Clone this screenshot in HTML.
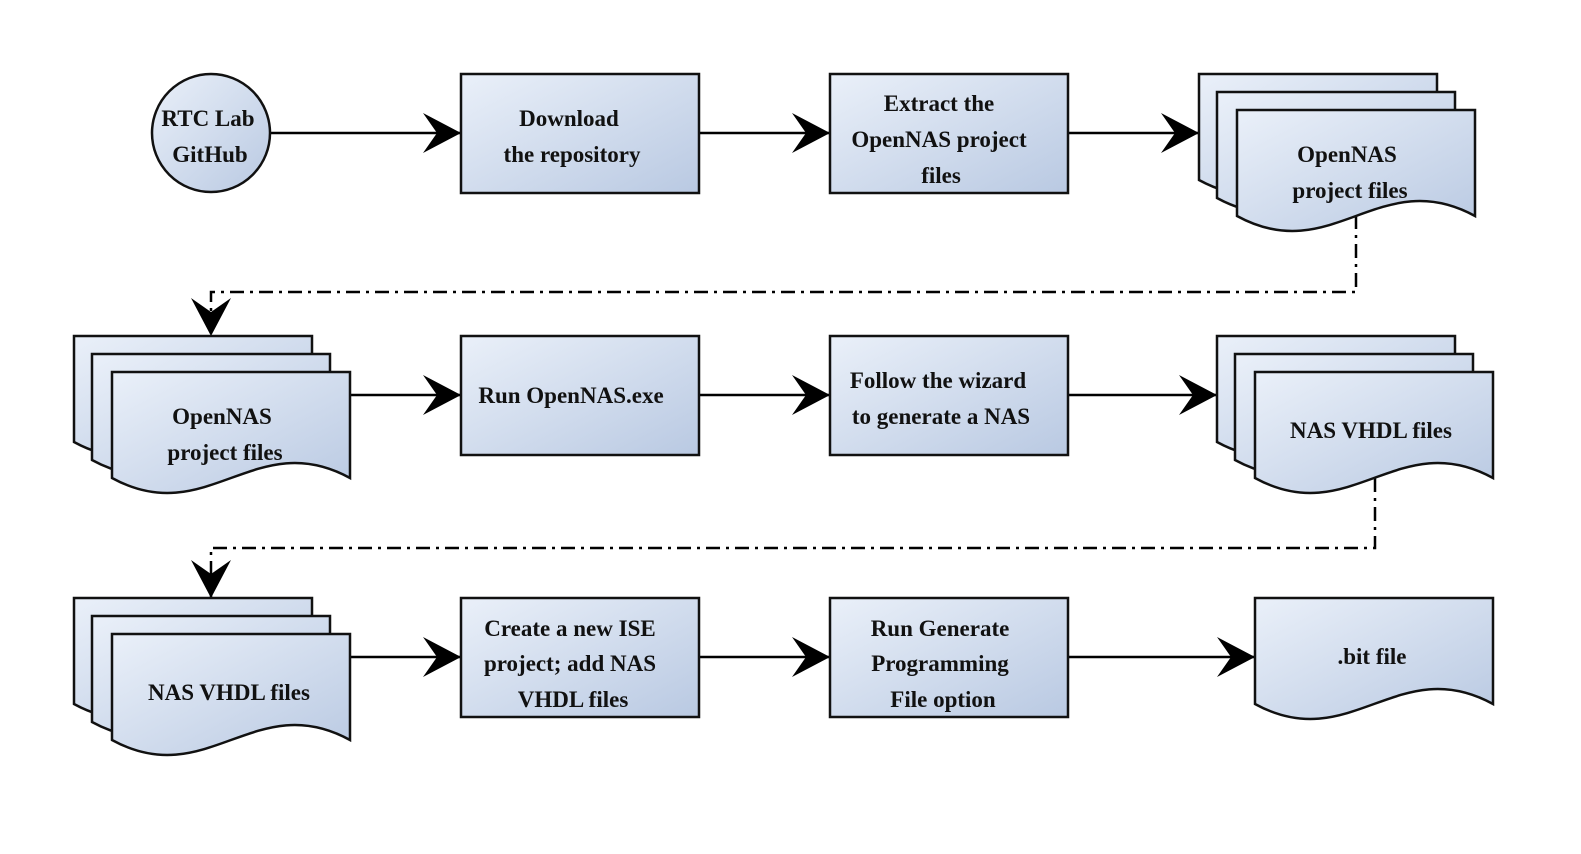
<!DOCTYPE html>
<html><head><meta charset="utf-8"><style>
html,body{margin:0;padding:0;background:#fff;}
svg text{font-family:"Liberation Serif",serif;font-weight:bold;font-size:23px;fill:#111;text-anchor:middle;}
</style></head><body>
<svg width="1581" height="849" viewBox="0 0 1581 849" xmlns="http://www.w3.org/2000/svg">
<defs>
<linearGradient id="g" x1="0" y1="0" x2="1" y2="1">
<stop offset="0" stop-color="#eaf0f9"/><stop offset="1" stop-color="#b9c9e2"/></linearGradient>
<marker id="a" markerUnits="userSpaceOnUse" markerWidth="42" markerHeight="42" refX="38" refY="20" orient="auto">
<path d="M0,0 L38,20 L0,40 L14,20 Z" fill="#000"/></marker>
<path id="d" d="M0,0 H238 V106 C143,54 95,158 0,106 Z" fill="url(#g)" stroke="#111" stroke-width="2.5"/>
</defs>
<g fill="none" stroke="#000" stroke-width="2.5">
<path d="M270,133 H461" marker-end="url(#a)"/>
<path d="M699,133 H830" marker-end="url(#a)"/>
<path d="M1068,133 H1199" marker-end="url(#a)"/>
<path d="M350,395 H461" marker-end="url(#a)"/>
<path d="M699,395 H830" marker-end="url(#a)"/>
<path d="M1068,395 H1217" marker-end="url(#a)"/>
<path d="M350,657 H461" marker-end="url(#a)"/>
<path d="M699,657 H830" marker-end="url(#a)"/>
<path d="M1068,657 H1255" marker-end="url(#a)"/>
<path d="M1356,215 V292 H211 V336" stroke-dasharray="14 6 3 6" marker-end="url(#a)"/>
<path d="M1375,478 V548 H211 V598" stroke-dasharray="14 6 3 6" marker-end="url(#a)"/>
</g>
<circle cx="211" cy="133" r="59" fill="url(#g)" stroke="#111" stroke-width="2.5"/>
<g fill="url(#g)" stroke="#111" stroke-width="2.5">
<rect x="461" y="74" width="238" height="119"/>
<rect x="830" y="74" width="238" height="119"/>
<rect x="461" y="336" width="238" height="119"/>
<rect x="830" y="336" width="238" height="119"/>
<rect x="461" y="598" width="238" height="119"/>
<rect x="830" y="598" width="238" height="119"/>
</g>
<use href="#d" x="1199" y="74"/><use href="#d" x="1217" y="92"/><use href="#d" x="1237" y="110"/>
<use href="#d" x="74" y="336"/><use href="#d" x="92" y="354"/><use href="#d" x="112" y="372"/>
<use href="#d" x="1217" y="336"/><use href="#d" x="1235" y="354"/><use href="#d" x="1255" y="372"/>
<use href="#d" x="74" y="598"/><use href="#d" x="92" y="616"/><use href="#d" x="112" y="634"/>
<use href="#d" x="1255" y="598"/>
<text x="208" y="126">RTC Lab</text><text x="210" y="162">GitHub</text>
<text x="569" y="126">Download</text><text x="572" y="162">the repository</text>
<text x="939" y="111">Extract the</text><text x="939" y="147">OpenNAS project</text><text x="941" y="183">files</text>
<text x="1347" y="162">OpenNAS</text><text x="1350" y="198">project files</text>
<text x="222" y="424">OpenNAS</text><text x="225" y="460">project files</text>
<text x="571" y="403">Run OpenNAS.exe</text>
<text x="938" y="388">Follow the wizard</text><text x="941" y="424">to generate a NAS</text>
<text x="1371" y="438">NAS VHDL files</text>
<text x="229" y="700">NAS VHDL files</text>
<text x="570" y="636">Create a new ISE</text><text x="570" y="671">project; add NAS</text><text x="573" y="707">VHDL files</text>
<text x="940" y="636">Run Generate</text><text x="940" y="671">Programming</text><text x="943" y="707">File option</text>
<text x="1372" y="664">.bit file</text>
</svg>
</body></html>
